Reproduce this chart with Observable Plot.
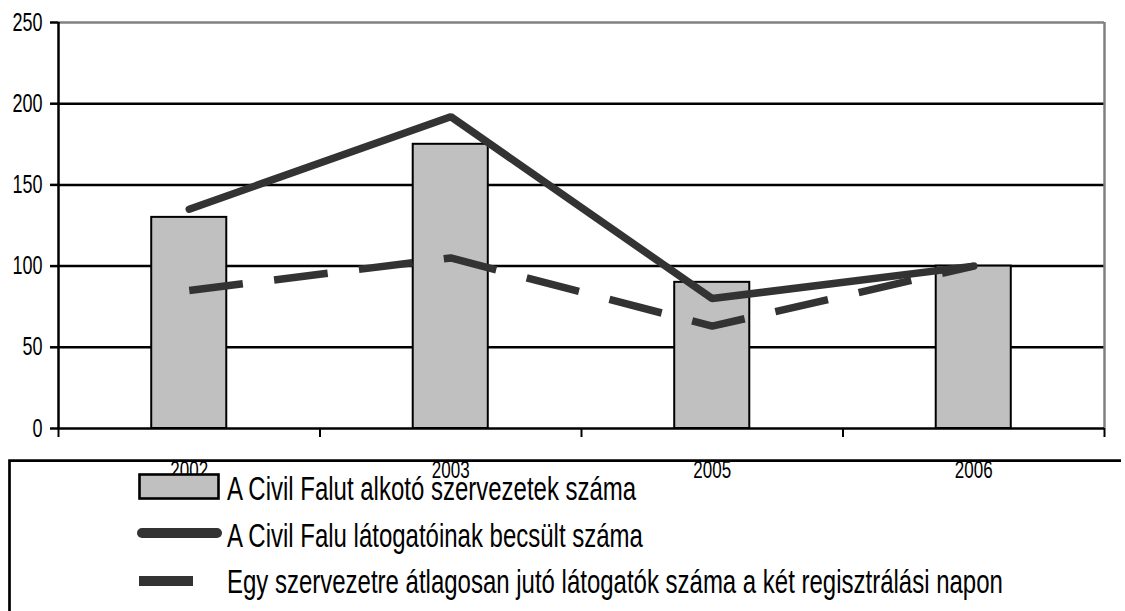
<!DOCTYPE html>
<html>
<head>
<meta charset="utf-8">
<script src="https://cdn.jsdelivr.net/npm/d3@7"></script>
<script src="https://cdn.jsdelivr.net/npm/@observablehq/plot@0.6"></script>
<style>
  html, body { margin: 0; padding: 0; background: white; }
  #chart { position: relative; width: 1125px; height: 611px; overflow: hidden; }
  #legend { position: absolute; left: 0; top: 0; pointer-events: none; }
</style>
</head>
<body>
<div id="chart"></div>
<script>
// ---- data ----
const years = ["2002", "2003", "2005", "2006"];
const orgCounts = [130, 175, 90, 100];          // A Civil Falut alkotó szervezetek száma (bars)
const visitorCounts = [135, 192, 80, 100];      // A Civil Falu látogatóinak becsült száma (solid line)
const perOrgVisitors = [85, 105, 63, 100];      // Egy szervezetre átlagosan jutó látogatók száma (dashed line)
const yTicks = [0, 50, 100, 150, 200, 250];
const legendLabels = [
  "A Civil Falut alkotó szervezetek száma",
  "A Civil Falu látogatóinak becsült száma",
  "Egy szervezetre átlagosan jutó látogatók száma a két regisztrálási napon"
];

const table = years.map((year, i) => ({
  year, i,
  org: orgCounts[i],
  vis: visitorCounts[i],
  per: perOrgVisitors[i]
}));

const halfBar = 0.1435;
const FONT = "'Liberation Sans', Arial, Helvetica, sans-serif";
const yMax = yTicks[yTicks.length - 1];

const plot = Plot.plot({
  width: 1125,
  height: 611,
  marginTop: 22,
  marginLeft: 58,
  marginRight: 21,
  marginBottom: 183,
  x: {domain: [0, years.length], axis: null},
  y: {domain: [0, yMax], axis: null},
  style: {fontFamily: FONT, color: "black", background: "white", overflow: "visible"},
  marks: [
    Plot.ruleY(yTicks.filter(v => v > 0 && v < yMax), {stroke: "black", strokeWidth: 2.5}),
    Plot.ruleY([yMax], {stroke: "#808080", strokeWidth: 2.5}),
    Plot.ruleX([years.length], {y1: 0, y2: yMax, stroke: "#808080", strokeWidth: 2.5}),
    Plot.rect(table, {
      x1: d => d.i + 0.5 - halfBar,
      x2: d => d.i + 0.5 + halfBar,
      y1: 0,
      y2: "org",
      fill: "#c0c0c0",
      stroke: "black",
      strokeWidth: 2
    }),
    Plot.ruleY([0], {stroke: "black", strokeWidth: 2.5}),
    Plot.ruleX([0], {y1: 0, y2: yMax, stroke: "black", strokeWidth: 2.5}),
    Plot.axisX({ticks: d3.range(years.length + 1), tickSize: 9, tickFormat: () => "", strokeWidth: 2, label: null}),
    Plot.axisX({
      ticks: years.map((_, i) => i + 0.5),
      tickSize: 0,
      tickPadding: 33,
      tickFormat: v => years[Math.floor(v)],
      fontSize: 17,
      label: null
    }),
    Plot.axisY({ticks: yTicks, tickSize: 8, tickPadding: 8, tickFormat: d => String(d), fontSize: 18, strokeWidth: 2.5, label: null}),
    Plot.line(table, {
      x: d => d.i + 0.5, y: "vis",
      stroke: "#333333", strokeWidth: 7.5,
      strokeLinecap: "round", strokeLinejoin: "miter"
    }),
    Plot.line(table, {
      x: d => d.i + 0.5, y: "per",
      stroke: "#333333", strokeWidth: 7.5,
      strokeDasharray: "54,31.5", strokeLinecap: "butt", strokeLinejoin: "miter"
    })
  ]
});

// stretch text vertically (tall condensed look of the original)
d3.select(plot).selectAll("text").each(function () {
  const t = this.getAttribute("transform");
  if (t) {
    this.setAttribute("transform", t + " scale(1,1.4)");
  } else {
    const x = +this.getAttribute("x") || 0, y = +this.getAttribute("y") || 0;
    this.setAttribute("transform", `translate(${x},${y}) scale(1,1.4) translate(${-x},${-y})`);
  }
});

const chart = document.getElementById("chart");
chart.appendChild(plot);

// ---- legend (overlay box below the plot area) ----
const lg = d3.select(chart).append("svg")
  .attr("id", "legend")
  .attr("width", 1125)
  .attr("height", 611);

lg.append("path")
  .attr("d", "M9.5,611 V460.7 H1121")
  .attr("fill", "none")
  .attr("stroke", "black")
  .attr("stroke-width", 2.7);

// symbols
lg.append("rect")
  .attr("x", 139.5).attr("y", 474.5).attr("width", 79).attr("height", 24)
  .attr("fill", "#c0c0c0").attr("stroke", "black").attr("stroke-width", 2.6);
lg.append("line")
  .attr("x1", 142).attr("x2", 217).attr("y1", 533).attr("y2", 533)
  .attr("stroke", "#333333").attr("stroke-width", 10).attr("stroke-linecap", "round");
lg.append("rect")
  .attr("x", 139).attr("y", 576).attr("width", 54).attr("height", 10)
  .attr("fill", "#333333");

const baselines = [500, 547, 592.5];
legendLabels.forEach((label, i) => {
  lg.append("text")
    .attr("transform", `translate(227,${baselines[i]}) scale(1,1.36)`)
    .attr("font-family", FONT)
    .attr("font-size", 24)
    .attr("fill", "black")
    .text(label);
});
</script>
</body>
</html>
